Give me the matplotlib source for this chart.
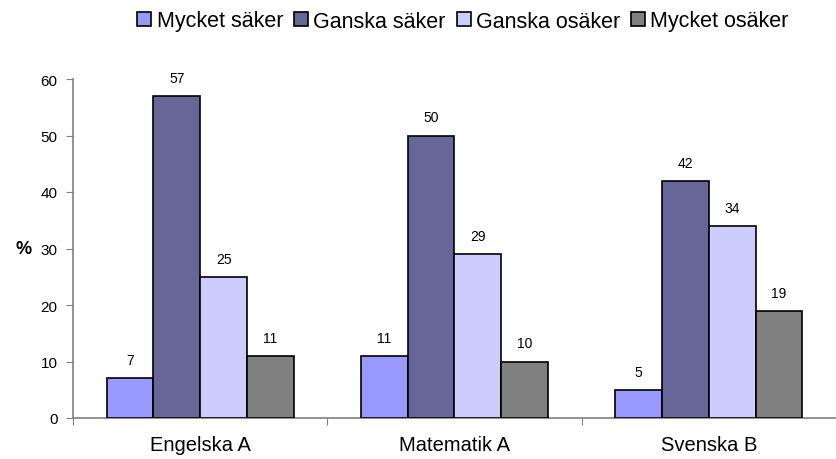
import numpy as np
import matplotlib.pyplot as plt

plt.rcParams['font.family'] = ['Liberation Sans', 'DejaVu Sans']

categories = ['Engelska A', 'Matematik A', 'Svenska B']
series = ['Mycket säker', 'Ganska säker', 'Ganska osäker', 'Mycket osäker']
values = [
    [7, 11, 5],
    [57, 50, 42],
    [25, 29, 34],
    [11, 10, 19],
]
colors = ['#9999FF', '#666699', '#CCCCFF', '#808080']

fig = plt.figure(figsize=(8.37, 4.6), dpi=100)
ax = fig.add_axes([73 / 837, 41 / 460, 763 / 837, 339 / 460])

x = np.arange(len(categories))
width = 0.184
for i, (name, vals, col) in enumerate(zip(series, values, colors)):
    pos = x + (i - 1.5) * width
    bars = ax.bar(pos, vals, width, color=col, edgecolor='black',
                  linewidth=1.2, label=name, zorder=3)
    for b, v in zip(bars, vals):
        ax.annotate(str(v), (b.get_x() + b.get_width() / 2, v),
                    xytext=(0, 8), textcoords='offset points',
                    ha='center', va='bottom', fontsize=10)

ax.set_xlim(-0.5, 2.5)
ax.set_ylim(0, 60)
ax.set_yticks(range(0, 61, 10))
ax.set_xticks([-0.5, 0.5, 1.5])
ax.set_xticklabels([])
ax.set_xticks(x, minor=True)
ax.set_xticklabels(categories, minor=True, fontsize=14.5)
ax.tick_params(axis='x', which='minor', length=0, pad=12)
ax.tick_params(axis='x', which='major', length=5, color='#808080')
ax.tick_params(axis='y', length=5, color='#808080', labelsize=11, pad=6)

for s in ['top', 'right']:
    ax.spines[s].set_visible(False)
for s in ['left', 'bottom']:
    ax.spines[s].set_color('#808080')
    ax.spines[s].set_linewidth(1.2)

ax.set_ylabel('%', rotation=0, fontsize=13, fontweight='bold', labelpad=12,
              va='center')

ax.legend(loc='center', bbox_to_anchor=(463 / 837, 1 - 22 / 460),
          bbox_transform=fig.transFigure, ncol=4, frameon=False,
          fontsize=15.5, handlelength=0.65, handleheight=0.65,
          handletextpad=0.25, columnspacing=0.5)

fig.savefig('out.png', dpi=100)
